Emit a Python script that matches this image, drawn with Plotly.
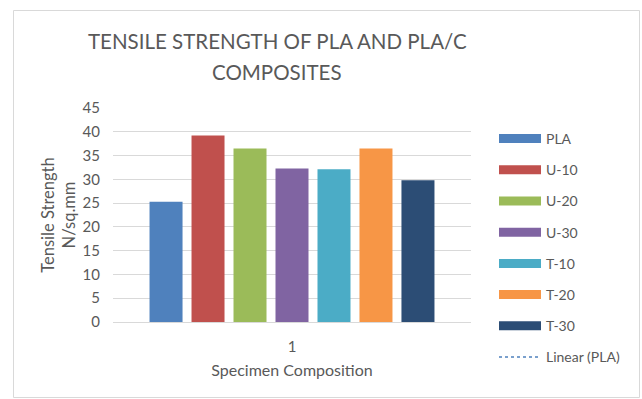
import plotly.graph_objects as go

categories = ["1"]
series_names = ["PLA", "U-10", "U-20", "U-30", "T-10", "T-20", "T-30"]
series_values = [25.3, 39.2, 36.5, 32.3, 32.1, 36.5, 29.8]
series_colors = ["#4F81BD", "#C0504D", "#9BBB59", "#8064A2", "#4BACC6", "#F79646", "#2C4D75"]
trend_name = "Linear (PLA)"
y_ticks = [0, 5, 10, 15, 20, 25, 30, 35, 40, 45]

FONT = "Lato"
GRAY = "#595959"

W, H = 642, 399
L, R, T, B = 113, 471, 108, 322  # plot area in pixels


def px_x(p):
    return (p - L) / (R - L)


def px_y(p):
    return (B - p) / (B - T)


fig = go.Figure()

for name, val, col in zip(series_names, series_values, series_colors):
    fig.add_trace(go.Bar(
        x=categories, y=[val], name=name, marker=dict(color=col, line=dict(width=0)),
        showlegend=False, legendgroup=name,
    ))
    # legend proxy (wide swatch)
    fig.add_trace(go.Scatter(
        x=[None], y=[None], mode="lines", name=name, legendgroup=name,
        line=dict(color=col, width=9), showlegend=True, hoverinfo="skip",
    ))

fig.add_trace(go.Scatter(
    x=categories, y=[series_values[0]], mode="lines", name=trend_name,
    legendgroup=trend_name, line=dict(color="#4F81BD", width=1.5, dash="dot"),
))

fig.update_layout(
    width=W, height=H,
    margin=dict(l=L, r=W - R, t=T, b=H - B),
    paper_bgcolor="white", plot_bgcolor="white",
    barmode="group", bargap=0.179, bargroupgap=0.214,
    font=dict(family=FONT, color=GRAY, size=14),
    showlegend=True,
    legend=dict(
        x=px_x(494), xanchor="left", y=px_y(123), yanchor="top",
        font=dict(family=FONT, size=14, color=GRAY),
        itemwidth=42, tracegroupgap=10, bgcolor="rgba(0,0,0,0)",
        traceorder="grouped", maxheight=330,
    ),
    xaxis=dict(
        showgrid=False, showline=True, linecolor="#D9D9D9", linewidth=1,
        ticks="", tickfont=dict(size=15, color=GRAY), ticklabelstandoff=11,
        title=dict(text="Specimen Composition", font=dict(size=16, color=GRAY), standoff=10),
    ),
    yaxis=dict(
        range=[0, 45], tickvals=y_ticks, showgrid=True, gridcolor="#D9D9D9",
        gridwidth=1, zeroline=True, zerolinecolor="#D9D9D9", zerolinewidth=1,
        showline=False, ticks="", ticklabelstandoff=12,
        tickfont=dict(size=15, color=GRAY),
        title=dict(text="Tensile Strength<br>N/sq.mm", font=dict(size=16.5, color=GRAY), standoff=2),
    ),
    shapes=[dict(
        type="rect", xref="paper", yref="paper",
        x0=px_x(13.5), x1=px_x(639.5), y0=px_y(397.5), y1=px_y(10.5),
        line=dict(color="#D9D9D9", width=1), fillcolor="rgba(0,0,0,0)", layer="below",
    )],
    annotations=[
        dict(text="TENSILE STRENGTH OF PLA AND PLA/C", xref="paper", yref="paper",
             x=px_x(277), y=px_y(41), xanchor="center", yanchor="middle", showarrow=False,
             font=dict(family=FONT, size=20.5, color=GRAY)),
        dict(text="COMPOSITES", xref="paper", yref="paper",
             x=px_x(277), y=px_y(72), xanchor="center", yanchor="middle", showarrow=False,
             font=dict(family=FONT, size=20.5, color=GRAY)),
    ],
)

fig.write_html("out.html")
